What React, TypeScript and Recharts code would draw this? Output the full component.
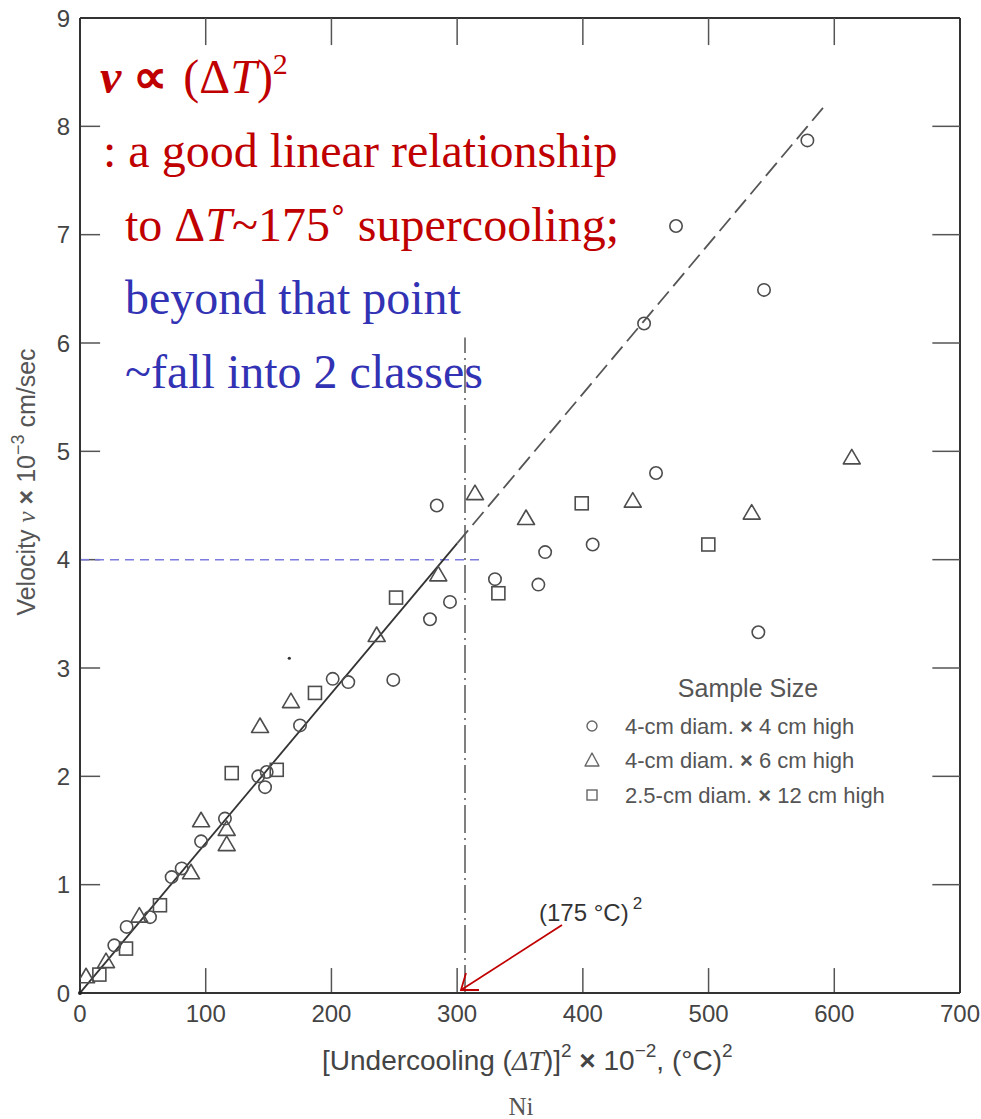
import React from 'react';
import {
  ComposedChart,
  XAxis,
  YAxis,
  Scatter,
  Line,
  ReferenceLine,
  ReferenceDot,
} from 'recharts';

// Axis ticks
const xTicks = [0, 100, 200, 300, 400, 500, 600, 700];
const yTicks = [0, 1, 2, 3, 4, 5, 6, 7, 8, 9];

// 4-cm diam. x 4 cm high samples
const circleSamples = [
  { x: 27.3, y: 0.44 }, { x: 37.1, y: 0.61 }, { x: 55.7, y: 0.7 }, { x: 72.9, y: 1.07 },
  { x: 80.9, y: 1.15 }, { x: 96.3, y: 1.4 }, { x: 115.3, y: 1.61 }, { x: 141.8, y: 2.0 },
  { x: 148.5, y: 2.04 }, { x: 147.2, y: 1.9 }, { x: 175, y: 2.47 }, { x: 201, y: 2.9 },
  { x: 213.4, y: 2.87 }, { x: 249.2, y: 2.89 }, { x: 278.4, y: 3.45 }, { x: 294.3, y: 3.61 },
  { x: 283.8, y: 4.5 }, { x: 330.1, y: 3.82 }, { x: 364.6, y: 3.77 }, { x: 370, y: 4.07 },
  { x: 407.8, y: 4.14 }, { x: 458.2, y: 4.8 }, { x: 539.6, y: 3.33 }, { x: 448.7, y: 6.18 },
  { x: 474.1, y: 7.08 }, { x: 544.1, y: 6.49 }, { x: 578.6, y: 7.87 },
];

// 4-cm diam. x 6 cm high samples
const triangleSamples = [
  { x: 4.8, y: 0.15 }, { x: 20.7, y: 0.29 }, { x: 47.2, y: 0.71 }, { x: 88.3, y: 1.11 },
  { x: 96.3, y: 1.59 }, { x: 116.7, y: 1.51 }, { x: 116.7, y: 1.37 }, { x: 143.2, y: 2.46 },
  { x: 167.8, y: 2.69 }, { x: 236, y: 3.3 }, { x: 285, y: 3.86 }, { x: 314.2, y: 4.61 },
  { x: 354.8, y: 4.38 }, { x: 439.7, y: 4.54 }, { x: 534.3, y: 4.43 }, { x: 613.9, y: 4.94 },
];

// 2.5-cm diam. x 12 cm high samples
const squareSamples = [
  { x: 15.4, y: 0.17 }, { x: 36.6, y: 0.41 }, { x: 63.6, y: 0.81 }, { x: 120.7, y: 2.03 },
  { x: 156.5, y: 2.06 }, { x: 186.9, y: 2.77 }, { x: 251.4, y: 3.65 }, { x: 332.8, y: 3.69 },
  { x: 399.1, y: 4.52 }, { x: 499.8, y: 4.14 },
];

// Linear fit v ∝ (ΔT)^2: measured range and its extrapolation
const fitSolid = [{ x: 0, y: 0 }, { x: 300, y: 4.15 }];
const fitDashed = [{ x: 300, y: 4.15 }, { x: 591, y: 8.17 }];

// (175 °C)^2 = 306.25 (x 10^2)
const criticalX = 306.25;
const criticalTop = 6.05;
const guideV = 4;
const guideEnd = 322;

const INK = '#333';
const MARK = '#4d4d4d';
const SANS = '"Liberation Sans", Arial, sans-serif';
const SERIF = '"Liberation Serif", "Times New Roman", serif';
const RED = '#c00000';
const BLUE = '#3232b4';

const CircleMark = (p: any) => (
  <circle cx={p.cx} cy={p.cy} r={6.2} fill="none" stroke={MARK} strokeWidth={1.6} />
);
const TriangleMark = (p: any) => (
  <polygon
    points={`${p.cx},${p.cy - 8.5} ${p.cx + 8.5},${p.cy + 6} ${p.cx - 8.5},${p.cy + 6}`}
    fill="none"
    stroke={MARK}
    strokeWidth={1.6}
    strokeLinejoin="round"
  />
);
const SquareMark = (p: any) => (
  <rect x={p.cx - 6.5} y={p.cy - 6.5} width={13} height={13} fill="none" stroke={MARK} strokeWidth={1.6} />
);

export default function App() {
  return (
    <div style={{ position: 'absolute', left: 0, top: 0, width: 981, height: 1119, background: '#fff' }}>
      <ComposedChart
        width={981}
        height={1119}
        margin={{ top: 18, right: 21, bottom: 86, left: 0 }}
      >
        <XAxis
          dataKey="x"
          type="number"
          domain={[0, 700]}
          ticks={xTicks}
          allowDataOverflow
          height={40}
          tickLine={false}
          tickSize={0}
          tickMargin={12}
          axisLine={{ stroke: INK, strokeWidth: 2 }}
          tick={{ fill: '#444', fontSize: 24, fontFamily: SANS }}
        />
        <YAxis
          dataKey="y"
          type="number"
          domain={[0, 9]}
          ticks={yTicks}
          allowDataOverflow
          width={80}
          tickLine={false}
          tickSize={0}
          tickMargin={10}
          axisLine={{ stroke: INK, strokeWidth: 2 }}
          tick={{ fill: '#444', fontSize: 24, fontFamily: SANS }}
        />

        {/* frame: top and right borders */}
        <ReferenceLine y={9} stroke={INK} strokeWidth={2} />
        <ReferenceLine x={700} stroke={INK} strokeWidth={2} />

        {/* inward tick marks on all four sides */}
        {yTicks.slice(1, -1).map((v) => (
          <ReferenceLine key={`yl${v}`} segment={[{ x: 0, y: v }, { x: 16, y: v }]} stroke="#555" strokeWidth={1.5} />
        ))}
        {yTicks.slice(1, -1).map((v) => (
          <ReferenceLine key={`yr${v}`} segment={[{ x: 678, y: v }, { x: 700, y: v }]} stroke="#555" strokeWidth={1.5} />
        ))}
        {xTicks.slice(1, -1).map((v) => (
          <ReferenceLine key={`xb${v}`} segment={[{ x: v, y: 0 }, { x: v, y: 0.23 }]} stroke="#555" strokeWidth={1.5} />
        ))}
        {xTicks.slice(1, -1).map((v) => (
          <ReferenceLine key={`xt${v}`} segment={[{ x: v, y: 9 }, { x: v, y: 8.75 }]} stroke="#555" strokeWidth={1.5} />
        ))}

        {/* guide lines */}
        <ReferenceLine
          segment={[{ x: 0, y: guideV }, { x: guideEnd, y: guideV }]}
          stroke="#7b7be0"
          strokeWidth={1.5}
          strokeDasharray="9 6"
        />
        <ReferenceLine
          segment={[{ x: criticalX, y: 0 }, { x: criticalX, y: criticalTop }]}
          stroke="#555"
          strokeWidth={1.5}
          strokeDasharray="28 5 2 5"
        />

        <Line data={fitSolid} dataKey="y" type="linear" stroke="#333" strokeWidth={1.8} dot={false} isAnimationActive={false} />
        <Line data={fitDashed} dataKey="y" type="linear" stroke="#555" strokeWidth={1.8} strokeDasharray="17 7" dot={false} isAnimationActive={false} />

        <Scatter data={circleSamples} dataKey="y" shape={CircleMark} isAnimationActive={false} />
        <Scatter data={triangleSamples} dataKey="y" shape={TriangleMark} isAnimationActive={false} />
        <Scatter data={squareSamples} dataKey="y" shape={SquareMark} isAnimationActive={false} />

        <ReferenceDot x={166.5} y={3.09} r={1.6} fill="#333" stroke="none" />
        <ReferenceDot x={0} y={0} r={2} fill="#222" stroke="none" />
      </ComposedChart>

      <svg
        width={981}
        height={1119}
        style={{ position: 'absolute', left: 0, top: 0, pointerEvents: 'none' }}
      >
        {/* y-axis title */}
        <text
          transform="translate(35,482) rotate(-90)"
          textAnchor="middle"
          fontFamily={SANS}
          fontSize={25}
          fill="#555"
        >
          Velocity <tspan fontFamily={SERIF} fontStyle="italic">v</tspan> <tspan fontWeight="bold">×</tspan> 10
          <tspan fontSize={18} dy={-11}>−3</tspan>
          <tspan dy={11}> cm/sec</tspan>
        </text>

        {/* x-axis title */}
        <text x={322} y={1070} fontFamily={SANS} fontSize={28} fill="#444">
          [Undercooling (<tspan fontFamily={SERIF} fontStyle="italic">ΔT</tspan>)]
          <tspan fontSize={19} dy={-13}>2</tspan>
          <tspan dy={13}> </tspan>
          <tspan fontWeight="bold">×</tspan> 10
          <tspan fontSize={19} dy={-13}>−2</tspan>
          <tspan dy={13}>, (°C)</tspan>
          <tspan fontSize={19} dy={-13}>2</tspan>
        </text>
        <text x={521} y={1115} textAnchor="middle" fontFamily={SERIF} fontSize={25} fill="#555">
          Ni
        </text>

        {/* legend */}
        <text x={748} y={697} textAnchor="middle" fontFamily={SANS} fontSize={25} fill="#555">
          Sample Size
        </text>
        <circle cx={592} cy={726} r={5} fill="none" stroke="#666" strokeWidth={1.4} />
        <polygon points="592,753 599,766 585,766" fill="none" stroke="#666" strokeWidth={1.4} strokeLinejoin="round" />
        <rect x={587} y={790} width={10} height={10} fill="none" stroke="#666" strokeWidth={1.4} />
        <g fontFamily={SANS} fontSize={22} fill="#555">
          <text x={625} y={734}>4-cm diam. <tspan fontWeight="bold">×</tspan> 4 cm high</text>
          <text x={625} y={768}>4-cm diam. <tspan fontWeight="bold">×</tspan> 6 cm high</text>
          <text x={625} y={803}>2.5-cm diam. <tspan fontWeight="bold">×</tspan> 12 cm high</text>
        </g>

        {/* (175 °C)^2 marker */}
        <text x={539} y={921} fontFamily={SANS} fontSize={24} fill="#333">
          (175 °C)<tspan fontSize={17} dy={-12} dx={4}>2</tspan>
        </text>
        <g stroke={RED} strokeWidth={1.8} fill="none">
          <line x1={562} y1={925} x2={461} y2={990} />
          <polyline points="466,973 461,990 479,990" />
        </g>

        {/* annotation */}
        <g fontFamily={SERIF} fontSize={48}>
          <text x={100} y={93} fill={RED}>
            <tspan fontWeight="bold" fontStyle="italic">v</tspan>
            <tspan fontWeight="bold" dx={12}>∝</tspan>
            <tspan dx={16}>(Δ</tspan>
            <tspan fontStyle="italic">T</tspan>
            <tspan>)</tspan>
            <tspan fontSize={30} dy={-19}>2</tspan>
          </text>
          <text x={103} y={167} fill={RED}>: a good linear relationship</text>
          <text x={125} y={241} fill={RED}>
            to Δ<tspan fontStyle="italic">T</tspan>~175˚ supercooling;
          </text>
          <text x={125} y={314} fill={BLUE}>beyond that point</text>
          <text x={125} y={388} fill={BLUE}>~fall into 2 classes</text>
        </g>
      </svg>
    </div>
  );
}
